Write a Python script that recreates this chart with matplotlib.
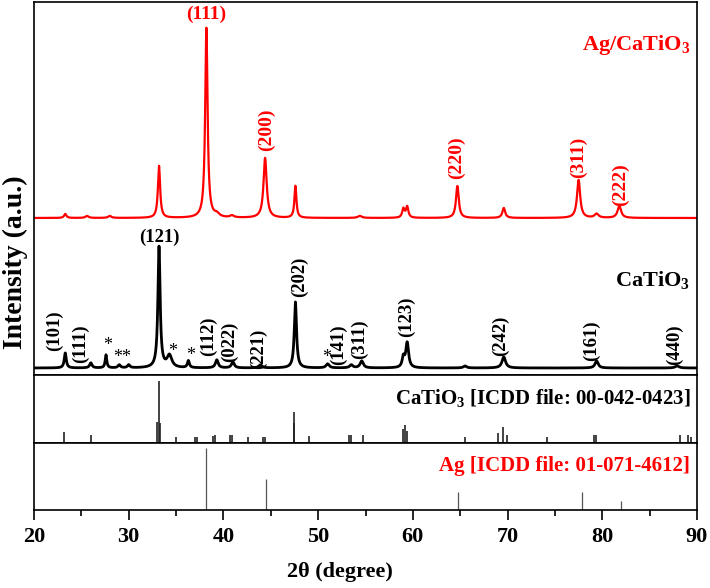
import numpy as np
import matplotlib as mpl
mpl.use('Agg')
import matplotlib.pyplot as plt
import matplotlib.ticker as ticker

plt.rcParams['font.family'] = ['Liberation Serif', 'DejaVu Serif']
plt.rcParams['font.weight'] = 'bold'
plt.rcParams['mathtext.fontset'] = 'custom'
plt.rcParams['mathtext.rm'] = 'Liberation Serif:bold'
plt.rcParams['mathtext.it'] = 'Liberation Serif:bold'
plt.rcParams['mathtext.bf'] = 'Liberation Serif:bold'

# ---- data (2theta in degree, heights in a.u.) ----
# Ag/CaTiO3 pattern (peak position, height, fwhm)
ag_pos = [23.3, 25.6, 28.0, 33.2, 38.2, 39.3, 40.9, 44.4, 47.6, 54.4, 59.0, 59.4,
          64.7, 69.6, 77.5, 79.4, 81.8]
ag_h = [4, 2, 2, 52, 190, 3, 2, 60, 32, 2, 9, 11, 32, 10, 38, 4, 12]
ag_w = [0.3, 0.4, 0.4, 0.28, 0.3, 0.6, 0.5, 0.4, 0.25, 0.5, 0.3, 0.3, 0.35, 0.35, 0.4, 0.5, 0.45]

# CaTiO3 pattern
ct_pos = [23.3, 26.0, 27.6, 29.0, 30.0, 33.2, 34.3, 36.3, 39.3, 41.0, 43.9, 47.6,
          51.0, 53.5, 54.6, 59.0, 59.4, 65.5, 69.6, 79.4, 87.9]
ct_h = [15, 5, 13, 3, 3, 121, 12, 7, 8, 6, 3, 66, 4, 3, 7, 10, 25, 2, 11, 7, 2]
ct_w = [0.25, 0.3, 0.2, 0.3, 0.3, 0.28, 0.6, 0.25, 0.35, 0.35, 0.4, 0.28,
        0.4, 0.4, 0.4, 0.3, 0.35, 0.4, 0.45, 0.4, 0.5]

# reference sticks
ref_ct_pos = [23.2, 26.0, 33.0, 33.2, 33.35, 35.0, 37.0, 37.2, 38.9, 39.1, 40.7, 40.9,
              42.6, 44.2, 44.4, 47.4, 47.5, 49.0, 53.3, 53.5, 54.7, 59.0, 59.2, 59.4,
              65.5, 69.0, 69.5, 69.9, 74.2, 79.1, 79.3, 88.2, 89.0, 89.4]
ref_ct_int = [18, 13, 34, 100, 32, 10, 10, 10, 11, 13, 13, 13,
              10, 10, 10, 32, 50, 11, 13, 13, 13, 22, 29, 19,
              10, 16, 26, 13, 10, 13, 13, 13, 13, 10]
ref_ag_pos = [38.17, 44.45, 64.75, 77.85, 82.0]
ref_ag_int = [100, 50, 29, 29, 15]

# peak labels: (text, 2theta, y, rotation)
ag_labels = [('(111)', 38.2, 361, 0), ('(200)', 44.5, 245, 90), ('(220)', 64.6, 217, 90),
             ('(311)', 77.5, 218, 90), ('(222)', 81.9, 190, 90)]
ct_labels = [('(101)', 22.2, 44, 90), ('(111)', 24.9, 31, 90), ('(121)', 33.2, 138, 0),
             ('(112)', 38.4, 39, 90), ('(022)', 40.6, 33, 90), ('(221)', 43.7, 26, 90),
             ('(202)', 48.0, 98, 90), ('(141)', 52.1, 30, 90), ('(311)', 54.4, 36, 90),
             ('(123)', 59.3, 58, 90), ('(242)', 69.3, 39, 90), ('(161)', 78.9, 34, 90),
             ('(440)', 87.6, 30, 90)]
stars = [('*', 27.8, 30), ('**', 29.3, 17), ('*', 34.6, 23), ('*', 36.5, 20), ('*', 50.9, 17)]

ct_base = 7
ag_base = 157


def profile(x, pos, h, w):
    y = np.zeros_like(x)
    for p, hh, ww in zip(pos, h, w):
        y += hh / (1 + ((x - p) / (ww / 2)) ** 2)
    return y


tt = np.arange(20, 90.001, 0.02)
ct_y = ct_base + profile(tt, ct_pos, ct_h, ct_w)
ag_y = ag_base + profile(tt, ag_pos, ag_h, ag_w)

fig = plt.figure(figsize=(7.1, 5.88), dpi=100)
L, W = 34 / 710, 663 / 710
ax1 = fig.add_axes([L, 1 - 375 / 588, W, 373 / 588])
ax2 = fig.add_axes([L, 1 - 443 / 588, W, 68 / 588], sharex=ax1)
ax3 = fig.add_axes([L, 1 - 510 / 588, W, 67 / 588], sharex=ax1)

ax1.plot(tt, ag_y, color='red', lw=1.6)
ax1.plot(tt, ct_y, color='black', lw=2.0)
ax1.set_ylim(0, 373)
ax1.set_xlim(20, 90)

for t, x, y, r in ag_labels:
    ax1.text(x, y, t, color='red', fontsize=14, rotation=r, ha='center', va='center')
for t, x, y, r in ct_labels:
    ax1.text(x, y, t, color='black', fontsize=13.5, rotation=r, ha='center', va='center')
for t, x, y in stars:
    ax1.text(x, y, t, color='black', fontsize=13, fontweight='normal', ha='center', va='center')

ax1.text(89.3, 330, 'Ag/CaTiO$_3$', color='red', fontsize=16, ha='right', va='center')
ax1.text(89.3, 95, 'CaTiO$_3$', color='black', fontsize=16, ha='right', va='center')

ax2.vlines(ref_ct_pos, 0, ref_ct_int, color='#222222', lw=1.2)
ax2.set_ylim(0, 110)
ax2.text(0.99, 0.66, 'CaTiO$_3$ [ICDD file: 00-042-0423]', transform=ax2.transAxes,
         fontsize=15, ha='right', va='center')

ax3.vlines(ref_ag_pos, 0, ref_ag_int, color='#555555', lw=0.9)
ax3.set_ylim(0, 108)
ax3.text(0.99, 0.66, 'Ag [ICDD file: 01-071-4612]', transform=ax3.transAxes,
         fontsize=15, color='red', ha='right', va='center')

for ax in (ax1, ax2, ax3):
    ax.set_yticks([])
    for s in ax.spines.values():
        s.set_linewidth(1.2)
for ax in (ax1, ax2):
    ax.tick_params(axis='x', bottom=False, labelbottom=False)

ax3.xaxis.set_major_locator(ticker.MultipleLocator(10))
ax3.xaxis.set_minor_locator(ticker.MultipleLocator(5))
ax3.tick_params(axis='x', which='major', length=7, width=1.2, labelsize=16, pad=5)
ax3.tick_params(axis='x', which='minor', length=4, width=1.2)
for lab in ax3.get_xticklabels():
    lab.set_fontweight('bold')

fig.text(340 / 710, 1 - 572 / 588, '2θ (degree)', fontsize=16, ha='center', va='center')
fig.text(15 / 710, 1 - 262 / 588, 'Intensity (a.u.)', fontsize=20, rotation=90,
         ha='center', va='center')

fig.savefig('out.png', dpi=100)
